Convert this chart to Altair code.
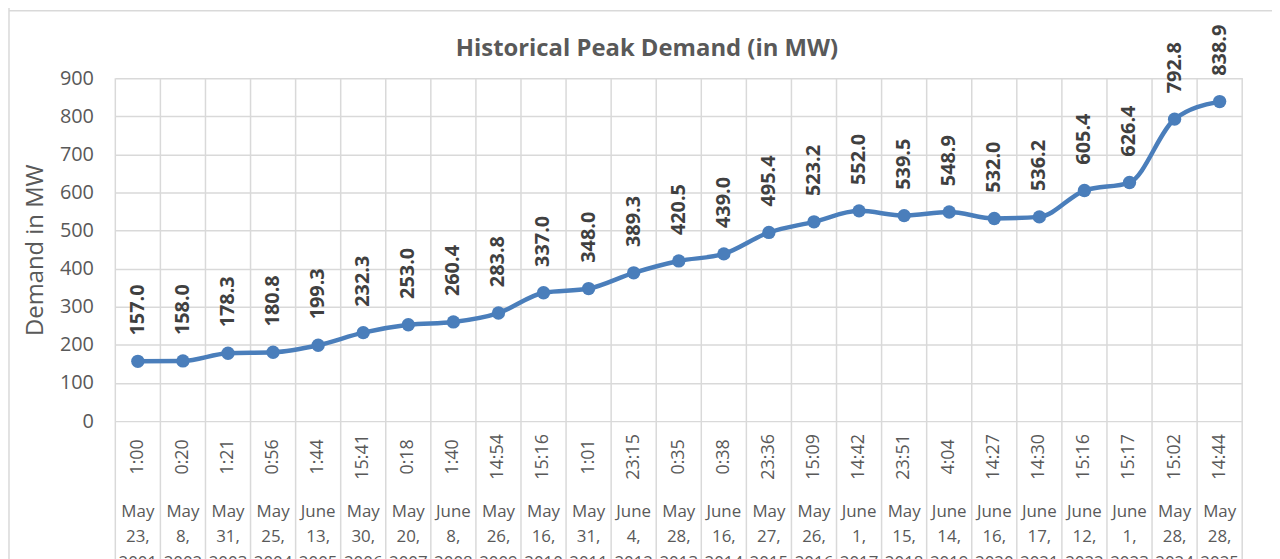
import altair as alt
import pandas as pd

values = [157.0, 158.0, 178.3, 180.8, 199.3, 232.3, 253.0, 260.4, 283.8, 337.0,
          348.0, 389.3, 420.5, 439.0, 495.4, 523.2, 552.0, 539.5, 548.9, 532.0,
          536.2, 605.4, 626.4, 792.8, 838.9]
times = ["1:00", "0:20", "1:21", "0:56", "1:44", "15:41", "0:18", "1:40", "14:54", "15:16",
         "1:01", "23:15", "0:35", "0:38", "23:36", "15:09", "14:42", "23:51", "4:04", "14:27",
         "14:30", "15:16", "15:17", "15:02", "14:44"]
months = ["May", "May", "May", "May", "June", "May", "May", "June", "May", "May",
          "May", "June", "May", "June", "May", "May", "June", "May", "June", "June",
          "June", "June", "June", "May", "May"]
days = ["23,", "8,", "31,", "25,", "13,", "30,", "20,", "8,", "26,", "16,",
        "31,", "4,", "28,", "16,", "27,", "26,", "1,", "15,", "14,", "16,",
        "17,", "12,", "1,", "28,", "28,"]
years = [str(y) for y in range(2001, 2026)]

n = len(values)
df = pd.DataFrame({
    "pos": [i + 0.5 for i in range(n)],
    "value": values,
    "label": [f"{v:.1f}" for v in values],
    "time": times,
    "month": months,
    "day": days,
    "year": years,
})
bounds = pd.DataFrame({"b": list(range(n + 1))})

W, H = 1134, 345
FONT = "Open Sans"
GRID = "#d9d9d9"
TXT = "#595959"
LINE = "#4a7ebb"

xs = alt.Scale(domain=[0, n], nice=False, zero=False)
ys = alt.Scale(domain=[0, 900], nice=False)

x = alt.X("pos:Q", scale=xs, axis=None)
y = alt.Y("value:Q", scale=ys,
          axis=alt.Axis(values=list(range(0, 901, 100)), grid=True, gridColor=GRID,
                        gridWidth=1.5, domain=False, ticks=False, labelFont=FONT,
                        labelFontSize=20, labelColor=TXT, labelPadding=22,
                        title="Demand in MW", titleFont=FONT, titleFontSize=24,
                        titleFontWeight="normal", titleColor=TXT, titlePadding=12))

vrules = alt.Chart(bounds).mark_rule(color=GRID, strokeWidth=1.5).encode(
    x=alt.X("b:Q", scale=xs, axis=None),
    y=alt.value(0), y2=alt.value(500))

line = alt.Chart(df).mark_line(interpolate="monotone", color=LINE, strokeWidth=4.5).encode(x=x, y=y)
pts = alt.Chart(df).mark_circle(color=LINE, opacity=1, size=180).encode(x=x, y=y)
labels = alt.Chart(df).mark_text(angle=270, align="left", baseline="middle", dx=26,
                                 font=FONT, fontSize=20, fontWeight="bold",
                                 color="#404040").encode(x=x, y=y, text="label:N")
tlab = alt.Chart(df).mark_text(angle=270, align="center", baseline="middle",
                               font=FONT, fontSize=18, color=TXT).encode(
    x=x, y=alt.value(381), text="time:N")
mlab = alt.Chart(df).mark_text(align="center", baseline="middle",
                               font=FONT, fontSize=17, color=TXT).encode(
    x=x, y=alt.value(436), text="month:N")
dlab = alt.Chart(df).mark_text(align="center", baseline="middle",
                               font=FONT, fontSize=17, color=TXT).encode(
    x=x, y=alt.value(462), text="day:N")
ylab = alt.Chart(df).mark_text(align="center", baseline="top",
                               font=FONT, fontSize=17, color=TXT).encode(
    x=x, y=alt.value(480), text="year:N")

title_df = pd.DataFrame({"t": ["Historical Peak Demand (in MW)"]})
title = alt.Chart(title_df).mark_text(align="center", baseline="alphabetic",
                                      font=FONT, fontSize=24, fontWeight="bold",
                                      color=TXT).encode(
    x=alt.value(535), y=alt.value(-22), text="t:N")

frame_left = alt.Chart(title_df).mark_rule(color=GRID, strokeWidth=1.5).encode(
    x=alt.value(-107), y=alt.value(-72), y2=alt.value(500))
frame_top = alt.Chart(title_df).mark_rule(color=GRID, strokeWidth=1.5).encode(
    x=alt.value(-107), x2=alt.value(1170), y=alt.value(-68))

chart = alt.layer(frame_left, frame_top, vrules, line, pts, labels, tlab, mlab, dlab, ylab, title).properties(
    width=W, height=H,
    autosize=alt.AutoSizeParams(type="none"),
    padding={"left": 108, "top": 69, "right": 30, "bottom": 137},
    background="white",
).configure_view(stroke=None)

chart.save("out.html", embed_options={"renderer": "svg", "actions": False})
